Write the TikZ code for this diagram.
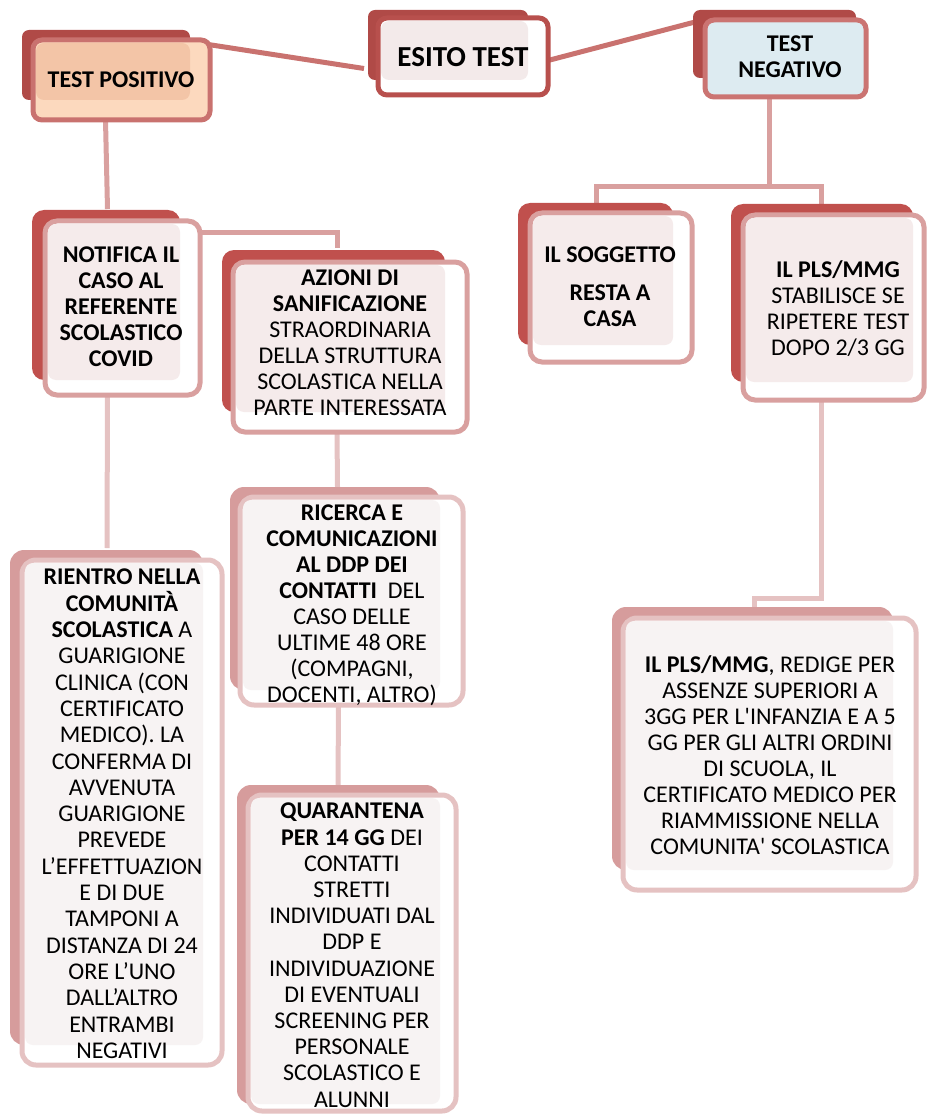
\documentclass[tikz,border=0pt]{standalone}
\usepackage{fontspec}
\setmainfont{Carlito}
\newcommand\sq{\XeTeXglyph\XeTeXcharglyph"27\relax}
\usetikzlibrary{calc,backgrounds}
\definecolor{cBackTop}{HTML}{B04A47}
\definecolor{cEsitoLine}{HTML}{B8504D}
\definecolor{cEsitoIn}{HTML}{F3EAEA}
\definecolor{cPosLine}{HTML}{C9726F}
\definecolor{cPosOut}{HTML}{FCD9BE}
\definecolor{cPosIn}{HTML}{F3C5A7}
\definecolor{cNegLine}{HTML}{CB7472}
\definecolor{cNegIn}{HTML}{DDEBF1}
\definecolor{cBackB}{HTML}{C0504D}
\definecolor{cLineB}{HTML}{D9A09F}
\definecolor{cInB}{HTML}{F5EBEB}
\definecolor{cBackC}{HTML}{D69C9C}
\definecolor{cLineC}{HTML}{E5C2C2}
\definecolor{cInC}{HTML}{F7F3F3}
\tikzset{
  backA/.style={fill=cBackTop, rounded corners=7pt},
  backB/.style={fill=cBackB, rounded corners=12pt},
  backC/.style={fill=cBackC, rounded corners=14pt},
  frontbox/.style={rectangle, rounded corners=9pt, line width=5pt, inner sep=0pt, outer sep=0pt},
  esitofront/.style={frontbox, draw=cEsitoLine, fill=white},
  posfront/.style={frontbox, draw=cPosLine, fill=cPosOut},
  negfront/.style={frontbox, draw=cNegLine, fill=cNegIn},
  frontB/.style={frontbox, draw=cLineB, fill=white, rounded corners=12pt},
  frontC/.style={frontbox, draw=cLineC, fill=white, rounded corners=14pt},
  txt/.style={align=center, inner sep=0pt, anchor=north, font=\fontsize{24}{26}\selectfont},
  conTop/.style={draw=cPosLine, line width=5pt},
  conB/.style={draw=cLineB, line width=5pt},
  conC/.style={draw=cLineC, line width=5pt},
}
% name, back style, front style, inner colour, back corner 1, back corner 2, front corner 1, front corner 2
\newcommand\mkbox[8]{%
  \fill[#2] (#5) rectangle (#6);
  \path let \p1=(#7), \p2=(#8) in
    node[#3, minimum width={\x2-\x1}, minimum height={\y1-\y2}] (#1) at ($(#7)!0.5!(#8)$) {};
  \path let \p1=(#7), \p2=(#6) in
    [fill=#4, rounded corners=8pt] (\x1+3pt,\y1-3pt) rectangle (\x2,\y2);
}
\begin{document}
\begin{tikzpicture}[x=1pt,y=-1pt]
\useasboundingbox (0,0) rectangle (926,1115);
\mkbox{esito}{backA}{esitofront}{cEsitoIn}{368,10}{528,80}{378,18}{548,95}
\mkbox{pos}{backA}{posfront}{cPosIn}{22,30}{190,100}{33,40}{210,120}
\mkbox{neg}{backA}{negfront}{cNegIn}{693,10}{856,78}{705,20}{866,97}
\mkbox{notif}{backB}{frontB}{cInB}{32,210}{180,380}{45,221}{200,395}
\mkbox{azioni}{backB}{frontB}{cInB}{222,250}{445,412}{233,262}{467,432}
\mkbox{sogg}{backB}{frontB}{cInB}{518,203}{673,345}{530,213}{692,362}
\mkbox{pls}{backB}{frontB}{cInB}{731,204}{913,382}{743,215}{924,400}
\mkbox{rientro}{backC}{frontC}{cInC}{10,550}{203,1045}{22,560}{222,1065}
\mkbox{ricerca}{backC}{frontC}{cInC}{230,487}{440,690}{240,497}{463,705}
\mkbox{quar}{backC}{frontC}{cInC}{237,785}{440,1104}{248,795}{456,1111}
\mkbox{redige}{backC}{frontC}{cInC}{612,607}{893,870}{623,618}{916,890}

\node[txt, font=\fontsize{29}{32}\selectfont\bfseries] (t-esito) at (463,47) {ESITO TEST};
\node[txt, font=\fontsize{24}{26}\selectfont\bfseries] (t-pos) at (121,72) {TEST POSITIVO};
\node[txt, font=\fontsize{24}{26}\selectfont\bfseries] (t-neg) at (790,36) {TEST\\NEGATIVO};
\node[txt] (t-notif) at (121,247) {\bfseries NOTIFICA IL\\\bfseries CASO AL\\\bfseries REFERENTE\\\bfseries SCOLASTICO\\\bfseries COVID};
\node[txt] (t-azioni) at (350,270) {\bfseries AZIONI DI\\\bfseries SANIFICAZIONE\\STRAORDINARIA\\DELLA STRUTTURA\\SCOLASTICA NELLA\\PARTE INTERESSATA};
\node[txt] (t-sogg) at (610,247) {\bfseries IL SOGGETTO\\[12pt]\bfseries RESTA A\\\bfseries CASA};
\node[txt] (t-pls) at (838,260) {\bfseries IL PLS/MMG\\STABILISCE SE\\RIPETERE TEST\\DOPO 2/3 GG};
\node[txt, font=\fontsize{24}{26.3}\selectfont] (t-rientro) at (122,569) {\bfseries RIENTRO NELLA\\\bfseries COMUNITÀ\\\textbf{SCOLASTICA} A\\GUARIGIONE\\CLINICA (CON\\CERTIFICATO\\MEDICO). LA\\CONFERMA DI\\AVVENUTA\\GUARIGIONE\\PREVEDE\\L’EFFETTUAZION\\E DI DUE\\TAMPONI A\\DISTANZA DI 24\\ORE L’UNO\\DALL’ALTRO\\ENTRAMBI\\NEGATIVI};
\node[txt] (t-ricerca) at (352,505) {\bfseries RICERCA E\\\bfseries COMUNICAZIONI\\\bfseries AL DDP DEI\\\textbf{CONTATTI}\ \ DEL\\CASO DELLE\\ULTIME 48 ORE\\(COMPAGNI,\\DOCENTI, ALTRO)};
\node[txt, font=\fontsize{24}{26.2}\selectfont] (t-quar) at (352,803) {\bfseries QUARANTENA\\\textbf{PER 14 GG} DEI\\CONTATTI\\STRETTI\\INDIVIDUATI DAL\\DDP E\\INDIVIDUAZIONE\\DI EVENTUALI\\SCREENING PER\\PERSONALE\\SCOLASTICO E\\ALUNNI};
\node[txt] (t-redige) at (770,655) {\textbf{IL PLS/MMG}, REDIGE PER\\ASSENZE SUPERIORI A\\3GG PER L\sq INFANZIA E A 5\\GG PER GLI ALTRI ORDINI\\DI SCUOLA, IL\\CERTIFICATO MEDICO PER\\RIAMMISSIONE NELLA\\COMUNITA\sq\ SCOLASTICA};

\begin{scope}[on background layer]
  \draw[conTop] ($(pos.north east)+(-18,2)$) -- ($(esito.west)+(-14,12)$);
  \draw[conTop] ($(esito.east)+(0,4)$) -- ($(neg.north west)+(-10,2)$);
  \draw[conB] ($(pos.south)+(-16,0)$) -- ($(notif.north)+(-15,-12)$);
  \draw[conB] ($(notif.north east)+(-5,12)$) -| ($(azioni.north)+(-13,-14)$);
  \draw[conB] ($(neg.south)+(-16,0)$) -- ($(neg.south)+(-16,90)$);
  \coordinate (negjoin) at ($(neg.south)+(-16,90)$);
  \draw[conB] (negjoin) -| ($(sogg.north)+(-15,-10)$);
  \draw[conB] (negjoin) -| ($(pls.north)+(-12,-10)$);
  \draw[conC] ($(notif.south)+(-15,0)$) -- ($(rientro.north)+(-15,-12)$);
  \draw[conC] ($(azioni.south)+(-13,0)$) -- ($(ricerca.north)+(-14,-10)$);
  \draw[conC] ($(ricerca.south)+(-13,0)$) -- ($(quar.north)+(-14,-10)$);
  \coordinate (plsbend) at ($(pls.south)+(-12,198)$);
  \draw[conC] ($(pls.south)+(-12,0)$) -- (plsbend) -| ($(redige.north)+(-15,-11)$);
\end{scope}
\end{tikzpicture}
\end{document}
